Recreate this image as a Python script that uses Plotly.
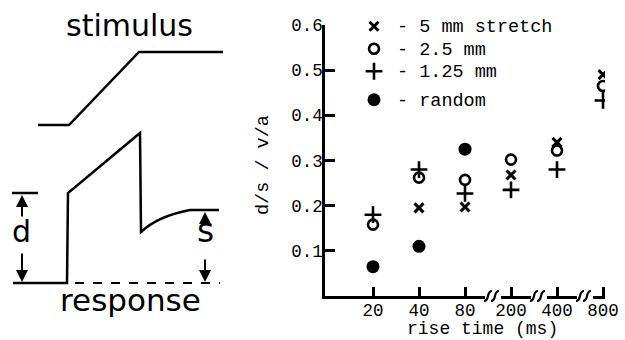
import plotly.graph_objects as go

# ---------------- data ----------------
rise_time_labels = ["20", "40", "80", "200", "400", "800"]
rise_pos = [0, 1, 2, 3, 4, 5]
stretch_5mm = [None, 0.195, 0.197, 0.268, 0.340, 0.490]
stretch_2_5mm = [0.158, 0.262, 0.257, 0.302, 0.322, 0.465]
stretch_1_25mm = [0.180, 0.280, 0.227, 0.235, 0.280, 0.433]
random_stim = [0.065, 0.110, 0.325, None, None, None]
y_ticks = [0.1, 0.2, 0.3, 0.4, 0.5, 0.6]
series_names = ["- 5 mm stretch", "- 2.5 mm", "- 1.25 mm", "- random"]

# schematic (pixel space of the drawing on the left)
stim_x = [38, 69, 139, 223]
stim_y = [125, 125, 52, 52]
resp_x = [13, 67, 68, 140, 141]
resp_y = [283, 283, 193, 133, 232]

W, H = 625, 340
MONO = "Liberation Mono"
SANS = "DejaVu Sans"

def px(x):
    return x / W

def py(y):
    return 1 - y / H

def lname(s):
    return f'<span style="font-size:18.5px">{s}</span>'

fig = go.Figure()

# main series
fig.add_trace(go.Scatter(x=rise_pos, y=stretch_5mm, mode="markers", name=lname(series_names[0]),
                         legendgroup="a",
                         marker=dict(symbol="x-thin", size=9, line=dict(width=3, color="black"), color="black")))
fig.add_trace(go.Scatter(x=rise_pos, y=stretch_2_5mm, mode="markers", name=lname(series_names[1]),
                         legendgroup="a",
                         marker=dict(symbol="circle-open", size=10, line=dict(width=2.6, color="black"), color="black")))
fig.add_trace(go.Scatter(x=rise_pos, y=stretch_1_25mm, mode="markers", name=lname(series_names[2]),
                         legendgroup="a",
                         marker=dict(symbol="cross-thin", size=12, line=dict(width=2.6, color="black"), color="black")))
fig.add_trace(go.Scatter(x=rise_pos, y=random_stim, mode="markers", name=lname(series_names[3]),
                         legendgroup="b",
                         marker=dict(symbol="circle", size=13, color="black", line=dict(width=0))))

# invisible trace for overlay pixel axes
fig.add_trace(go.Scatter(x=[0], y=[0], xaxis="x2", yaxis="y2", mode="markers",
                         marker=dict(opacity=0), showlegend=False, hoverinfo="skip"))

shapes = []
LW = 2.5

# stimulus trace
path = "M " + " L ".join(f"{x},{y}" for x, y in zip(stim_x, stim_y))
shapes.append(dict(type="path", path=path, xref="x2", yref="y2", line=dict(color="black", width=LW)))
# response trace
path = "M " + " L ".join(f"{x},{y}" for x, y in zip(resp_x, resp_y)) + " Q 158,216 190,210 L 219,210"
shapes.append(dict(type="path", path=path, xref="x2", yref="y2", line=dict(color="black", width=LW)))
# dashed baseline
shapes.append(dict(type="line", x0=75, y0=283, x1=220, y1=283, xref="x2", yref="y2",
                   line=dict(color="black", width=2, dash="dash")))
# d top bar
shapes.append(dict(type="line", x0=12, y0=193, x1=38, y1=193, xref="x2", yref="y2",
                   line=dict(color="black", width=LW)))

# x-axis break marks
for bx in [493, 539, 585]:
    shapes.append(dict(type="rect", x0=bx - 8, x1=bx + 8, y0=292, y1=300, xref="x2", yref="y2",
                       fillcolor="white", line=dict(width=0)))
    for off in (-5, 2):
        a = bx + off
        shapes.append(dict(type="path",
                           path=f"M {a-4},{301} C {a+2},{301} {a-2},{291} {a+4},{291}",
                           xref="x2", yref="y2", line=dict(color="black", width=2.2)))

annotations = []
# arrows
for (tx, ty, axx, ayy) in [(22, 195, 22, 218), (22, 282, 22, 252),
                           (205, 212, 205, 219), (205, 282, 205, 258)]:
    annotations.append(dict(x=tx, y=ty, ax=axx, ay=ayy, xref="x2", yref="y2", axref="x2", ayref="y2",
                            showarrow=True, arrowhead=2, arrowsize=1.2, arrowwidth=2, arrowcolor="black",
                            text=""))
# schematic text
annotations += [
    dict(x=129, y=25, xref="x2", yref="y2", text="stimulus", showarrow=False,
         font=dict(family=SANS, size=30, color="black")),
    dict(x=130, y=300, xref="x2", yref="y2", text="response", showarrow=False,
         font=dict(family=SANS, size=31, color="black")),
    dict(x=21, y=231, xref="x2", yref="y2", text="d", showarrow=False,
         font=dict(family=SANS, size=30, color="black")),
    dict(x=205, y=230, xref="x2", yref="y2", text="s", showarrow=False,
         font=dict(family=SANS, size=33, color="black")),
    # axis titles
    dict(x=482, y=329, xref="x2", yref="y2", text="rise time (ms)", showarrow=False,
         font=dict(family=MONO, size=18, color="black")),
    dict(x=263, y=165, xref="x2", yref="y2", text="d/s / v/a", showarrow=False, textangle=-90,
         font=dict(family=MONO, size=18.5, color="black")),
]

fig.update_layout(
    width=W, height=H,
    margin=dict(l=0, r=0, t=0, b=0, autoexpand=False),
    paper_bgcolor="white", plot_bgcolor="rgba(0,0,0,0)",
    showlegend=True,
    legend=dict(x=px(351), y=py(10), xanchor="left", yanchor="top",
                font=dict(family=MONO, size=15, color="black"),
                bgcolor="rgba(0,0,0,0)", traceorder="grouped", tracegroupgap=6,
                itemwidth=36, itemclick=False),
    xaxis=dict(domain=[px(325), px(605)], range=[-48 / 46, 5 + 2 / 46],
               tickvals=rise_pos, ticktext=rise_time_labels,
               ticks="inside", ticklen=9, tickwidth=2.5, tickcolor="black",
               showline=True, linewidth=2.5, linecolor="black", showgrid=False, zeroline=False,
               ticklabelstandoff=-4,
               tickfont=dict(family=MONO, size=17.5, color="black")),
    yaxis=dict(domain=[py(296), py(25)], range=[0, 0.6],
               tickvals=y_ticks, ticktext=[f"{v:.1f}" for v in y_ticks],
               ticks="inside", ticklen=10, tickwidth=2.5, tickcolor="black",
               showline=True, linewidth=2.5, linecolor="black", showgrid=False, zeroline=False,
               ticklabelstandoff=-4,
               tickfont=dict(family=MONO, size=17.5, color="black")),
    xaxis2=dict(domain=[0, 1], range=[0, W], visible=False, anchor="y2", fixedrange=True),
    yaxis2=dict(domain=[0, 1], range=[H, 0], visible=False, anchor="x2", fixedrange=True),
    shapes=shapes,
    annotations=annotations,
)

fig.write_html("out.html")
